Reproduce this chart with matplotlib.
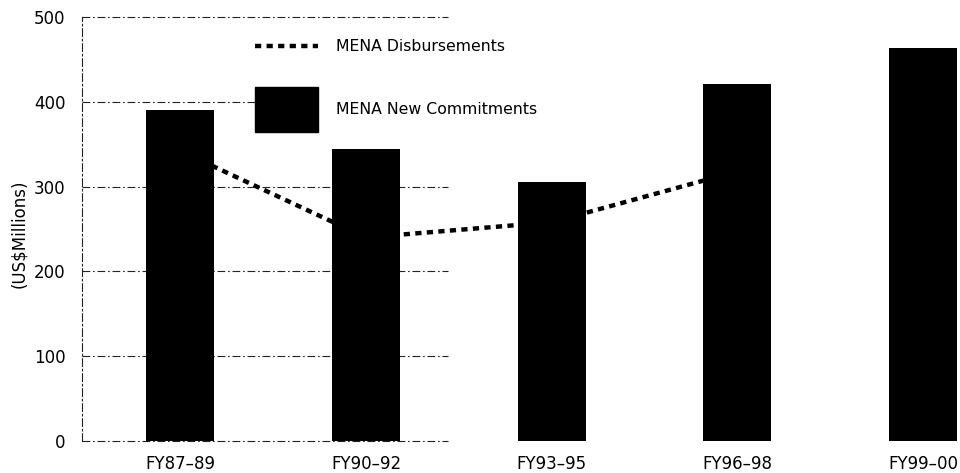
import numpy as np
import matplotlib.pyplot as plt
from matplotlib.patches import Patch
from matplotlib.lines import Line2D
from matplotlib.legend_handler import HandlerLine2D

# Data (US$ millions)
periods = ['FY87–89', 'FY90–92', 'FY93–95', 'FY96–98', 'FY99–00']
commitments = [390, 344, 306, 421, 463]
disbursements = [342, 240, 258, 318, np.nan]
y_ticks = [0, 100, 200, 300, 400, 500]


class CenteredLine(HandlerLine2D):
    # keep the dashed sample in the middle of a tall handle box
    def create_artists(self, legend, orig_handle, xdescent, ydescent,
                       width, height, fontsize, trans):
        return super().create_artists(legend, orig_handle, xdescent, ydescent,
                                      width, height - ydescent, fontsize, trans)


plt.rcParams['font.family'] = ['DejaVu Sans']

fig = plt.figure(figsize=(9.6, 4.73), dpi=100)
ax = fig.add_axes([82 / 960, 1 - 441 / 473, 1 - 82 / 960, (441 - 17) / 473])

x = np.arange(len(periods))

# faint dash-dot grid, only on the left part as in the scan
dashdot = (0, (7, 2.5, 1.5, 2.5))
for yv in y_ticks:
    ax.plot([-0.53, 1.44], [yv, yv], color='#222222', lw=0.8,
            linestyle=dashdot, zorder=1, clip_on=False)

ax.plot(x, disbursements, color='black', lw=3.2,
        linestyle=(0, (1.4, 1.2)), zorder=2)
ax.bar(x, commitments, width=0.367, color='black', zorder=3)

ax.set_xlim(-0.53, 4.2)
ax.set_ylim(0, 500)
ax.set_xticks(x)
ax.set_xticklabels(periods, fontsize=12)
ax.set_yticks(y_ticks)
ax.set_yticklabels([str(v) for v in y_ticks], fontsize=12)
ax.tick_params(length=0)
ax.tick_params(axis='y', pad=12)
ax.tick_params(axis='x', pad=10)

for s in ['top', 'right', 'bottom']:
    ax.spines[s].set_visible(False)
ax.spines['left'].set_linestyle(dashdot)
ax.spines['left'].set_linewidth(0.8)
ax.spines['left'].set_color('#222222')

ax.set_ylabel('(US$Millions)', fontsize=12)
ax.yaxis.set_label_coords((28 - 82) / 878, (441 - 234) / 424)

handles = [Line2D([], [], color='black', lw=3.2, linestyle=(0, (1.4, 1.2))),
           Patch(facecolor='black', edgecolor='black')]
fs = 11.3
fpx = fs * 100 / 72
hh = (45 / fpx - 0.245) / 0.65
ax.legend(handles, ['MENA Disbursements', 'MENA New Commitments'],
          loc='upper left', bbox_to_anchor=(255 / 960, 1 - 24 / 473),
          bbox_transform=fig.transFigure, fontsize=fs,
          handlelength=63 / fpx, handleheight=hh,
          labelspacing=18.5 / fpx, handletextpad=18 / fpx,
          borderpad=0, borderaxespad=0,
          frameon=True, facecolor='white', edgecolor='none', framealpha=1,
          fancybox=False, handler_map={Line2D: CenteredLine()})

plt.savefig('out.png', dpi=100)
